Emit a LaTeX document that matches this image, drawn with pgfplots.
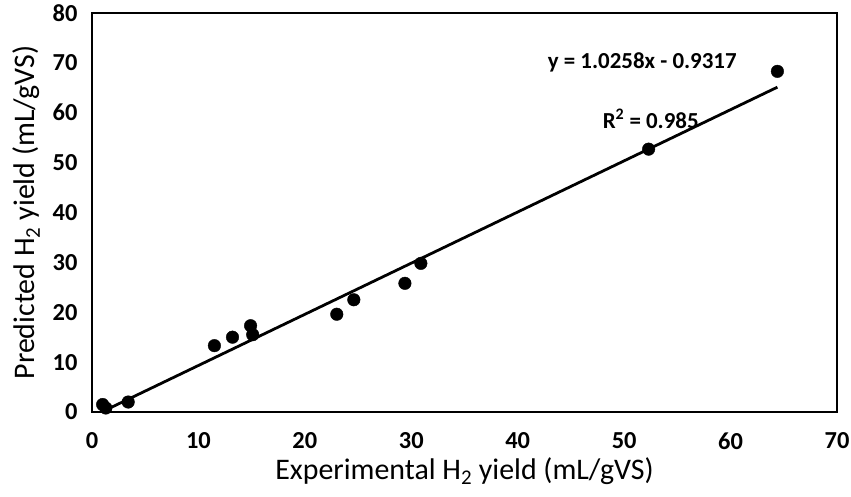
\documentclass[border=0pt]{standalone}
\usepackage{pgfplots}
\pgfplotsset{compat=1.18}
\usepackage{fontspec}
\setmainfont{Carlito}
\begin{document}
\begin{tikzpicture}
\begin{axis}[
	name=ax,
	scale only axis,
	width=745bp,
	height=399bp,
	xmin=0, xmax=70,
	ymin=0, ymax=80,
	xtick={0,10,...,70},
	ytick={0,10,...,80},
	major tick length=0pt,
	axis line style={line width=2pt},
	tick label style={font=\fontsize{24.5}{28}\selectfont\bfseries},
	/pgf/number format/assume math mode=true,
	xticklabel style={anchor=center, yshift=-29bp},
	yticklabel style={xshift=-11bp},
	xlabel={Experimental H\textsubscript{2} yield (mL/gVS)},
	ylabel={Predicted H\textsubscript{2} yield (mL/gVS)},
	xlabel style={font=\fontsize{30}{34}\selectfont, at={(axis description cs:0.5,-0.148)}, anchor=center},
	ylabel style={font=\fontsize{30}{34}\selectfont, at={(axis description cs:-0.088,0.5)}, anchor=center},
	clip=false
	]
	% experimental vs predicted
	\addplot [only marks, mark=*, mark size=6.3bp, black] coordinates {
		(1.0, 1.5)
		(1.3, 0.8)
		(3.4, 2.0)
		(11.5, 13.3)
		(13.2, 15.0)
		(14.9, 17.3)
		(15.1, 15.5)
		(23.0, 19.6)
		(24.6, 22.5)
		(29.4, 25.8)
		(30.9, 29.8)
		(52.3, 52.7)
		(64.4, 68.3)
	};
	% linear trend line y = 1.0258x - 0.9317
	\addplot [black, line width=2.8pt] coordinates {
		(1.0, 0.0941)
		(64.4, 65.1298)
	};
	\node[font=\fontsize{23}{26}\selectfont\bfseries] at (axis cs:51.7,70.0) {y = 1.0258x - 0.9317};
	\node[font=\fontsize{23}{26}\selectfont\bfseries] at (axis cs:52.5,58.8) {R\textsuperscript{2} = 0.985};
\end{axis}
\pgfresetboundingbox
\path ([xshift=-92bp,yshift=-85bp]ax.south west) rectangle ([xshift=14bp,yshift=13bp]ax.north east);
\end{tikzpicture}
\end{document}
